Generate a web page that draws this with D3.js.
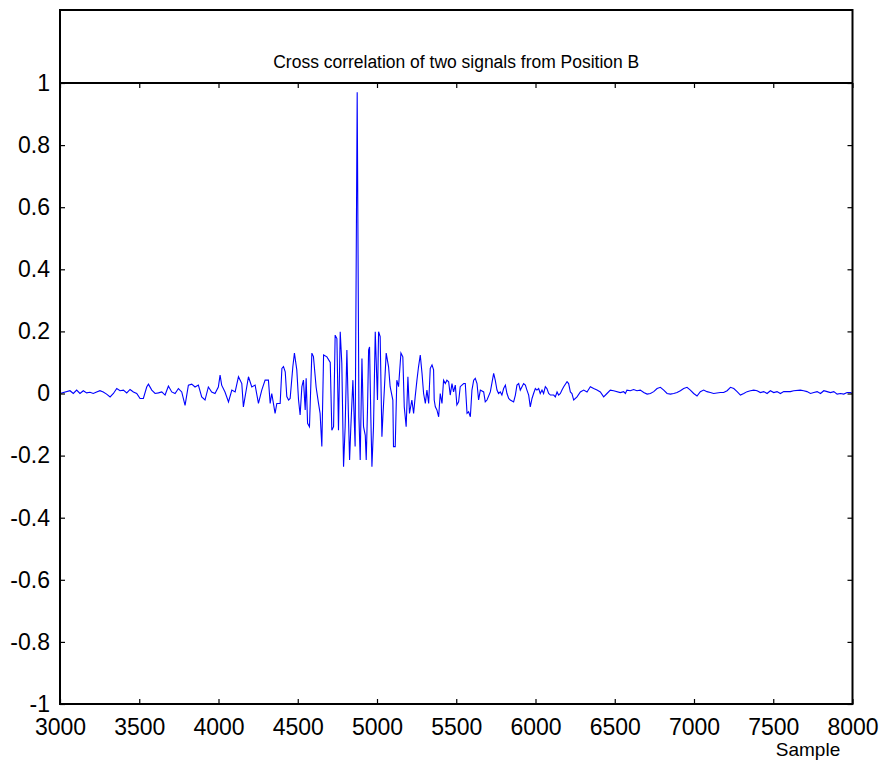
<!DOCTYPE html>
<html>
<head>
<meta charset="utf-8">
<script src="https://cdn.jsdelivr.net/npm/d3@7"></script>
<style>
  html, body { margin: 0; padding: 0; background: #fff; }
  svg { display: block; }
  text { font-family: Arial, "Liberation Sans", Helvetica, sans-serif; fill: #000; }
</style>
</head>
<body>
<div id="chart"></div>
<script>
const titleText = "Cross correlation of two signals from Position B";
const xLabelText = "Sample";
const xTicks = [3000, 3500, 4000, 4500, 5000, 5500, 6000, 6500, 7000, 7500, 8000];
const xTickLabels = ["3000","3500","4000","4500","5000","5500","6000","6500","7000","7500","8000"];
const yTicks = [-1, -0.8, -0.6, -0.4, -0.2, 0, 0.2, 0.4, 0.6, 0.8, 1];
const yTickLabels = ["-1","-0.8","-0.6","-0.4","-0.2","0","0.2","0.4","0.6","0.8","1"];

const samples = [
  3000,3063,3084,3105,3126,3147,3168,3189,3210,3231,3252,3273,3294,3316,3337,3358,3379,3400,3421,3442,
  3463,3484,3505,3526,3547,3558,3579,3600,3621,3642,3663,3684,3705,3726,3747,3768,3789,3810,3831,3852,
  3873,3894,3915,3936,3957,3978,3999,4010,4020,4041,4063,4084,4105,4126,4147,4157,4189,4210,4231,4252,
  4273,4294,4315,4326,4336,4357,4368,
  4389,4400,4410,4421,4431,4442,4452,4469,4479,4494,4505,4515,4526,4536,4547,4553,4562,4574,4589,4599,
  4616,4631,4641,4652,4663,4684,4705,4715,4726,4736,4747,4757,4768,4778,4789,4799,4810,4820,4827,4835,
  4848,4862,4875,4886,4894,4905,4915,4926,4932,4940,4947,4953,4961,4968,4978,4989,5003,5010,5020,5031,
  5037,5045,5058,5073,5083,5100,5104,5115,5125,5136,5151,5163,5172,5184,5195,5205,5220,5231,5241,5252,
  5262,5273,
  5284,5294,5305,5315,5326,5336,5347,5357,5361,5368,5378,5389,5399,5410,5420,5431,5441,5452,5462,5473,
  5483,5494,5504,5515,5525,5547,5557,5568,5578,5589,5599,5610,5620,5631,5641,5652,5673,5683,5694,5715,
  5736,5746,5757,5767,5778,5788,5799,5810,5820,5831,5841,5862,5873,5883,5894,5904,5915,5925,5936,5946,
  5957,5967,5978,5988,5999,6009,6020,6030,6041,6051,6062,6072,6083,6094,6115,6125,6136,6146,6157,6167,
  6178,6199,6209,6220,6230,6241,6262,6283,6304,6325,6346,6367,6388,6409,6430,6451,6472,6493,6535,
  6556,6567,6577,6598,6619,6640,6661,6683,6704,6725,6746,6767,6788,6809,6830,6851,6872,6893,6914,6935,
  6956,6977,6998,7019,7040,7061,7082,7103,7124,7166,7187,7209,7230,7251,7272,7293,7314,7335,7356,7377,
  7398,7419,7440,7461,7482,7503,7524,7545,7566,7608,7629,7671,7692,7713,7735,7756,7777,7798,7819,7840,
  7861,7882,7903,7924,7945,7966,7987,8000
];
const values = [
  0,0.009,0,0.011,0,0.009,0.002,0.004,0,0.005,0.009,0.005,-0.002,-0.011,0,0.016,0.009,0.011,0.002,0.013,
  0.005,0,-0.016,-0.016,0.021,0.03,0.011,0,0.002,0.005,-0.005,0.024,0.005,0,0.016,0.005,-0.038,0.027,0.03,0.021,
  0.027,-0.011,-0.021,0.021,0.005,0,0.021,0.059,0.027,0.005,-0.027,0.011,0.005,0.054,0.032,-0.043,0.054,0.021,0.027,-0.032,
  0.011,0.043,0.043,-0.032,0,-0.064,-0.032,
  -0.032,0.081,0.087,0.07,-0.01,-0.021,-0.016,0.086,0.13,0.076,-0.021,-0.069,0.022,0.043,-0.053,0.049,-0.096,-0.107,0.13,0.119,
  0.02,-0.032,-0.064,-0.171,0.124,0.118,0.10,-0.118,-0.107,0.188,0.177,-0.118,0.199,0.097,-0.236,-0.107,0.14,-0.075,-0.214,-0.107,
  0.043,-0.171,0.97,-0.075,-0.214,0.113,-0.107,-0.135,-0.214,-0.053,0.14,0.15,-0.075,-0.236,-0.107,0.199,-0.021,0.199,0.183,-0.139,
  -0.075,0,0.13,0.086,0.022,-0.021,-0.171,-0.171,0.043,0.022,0.13,0.118,-0.043,-0.107,0.054,-0.064,-0.021,-0.064,-0.01,0.043,
  0.086,0.124,
  0.065,0,-0.032,0.011,-0.032,0.081,0.092,0.076,-0.021,-0.043,-0.053,-0.075,0,-0.032,0.043,0.032,0.043,0.038,-0.005,0.032,
  0.005,0.027,-0.037,-0.027,0.022,0.032,0.032,-0.064,-0.059,-0.075,0.011,0.043,0.049,0.032,-0.021,0.011,0.005,-0.027,-0.021,0.005,
  0.065,0.043,0.011,0,0.005,-0.005,0.016,0.027,0,-0.016,-0.021,-0.027,-0.005,0.027,0.032,0.011,0.022,0.032,0.027,0.011,
  -0.005,-0.043,-0.016,0,0.016,0.011,0.016,0,0.011,0,0.022,0.016,0,-0.005,-0.005,-0.011,0.005,-0.005,0,0.011,
  0.022,0.038,0.032,0.005,0,-0.021,-0.011,0.005,0.011,0.005,0.022,0.016,0.011,0.005,-0.011,0,0.011,0.009,0.003,
  0.006,0,0.011,0.009,0.013,0.009,0.011,0.003,-0.002,0,0.006,0.016,0.02,0.011,0,-0.002,0,0.003,0.009,0.016,
  0.02,0.011,0,-0.008,0.006,0.011,0.006,0.003,0,0.003,0.003,0.009,0.02,0.016,0.006,-0.005,0,0.006,0.009,0.011,
  0.009,0.003,0.006,0,0.009,0.003,0.006,0,0.006,0.006,0.009,0.011,0.009,0.006,0,0.003,0.006,0,0.009,0.006,
  0.003,0.006,-0.002,0,-0.002,0.003,0.003,0
];

const W = 883, H = 765;
const plotLeft = 60, plotRight = 852.5, plotTop = 83, plotBottom = 704, frameTop = 10;

const svg = d3.select("#chart").append("svg").attr("width", W).attr("height", H);

const x = d3.scaleLinear().domain([3000, 8000]).range([plotLeft, plotRight]);
const y = d3.scaleLinear().domain([-1, 1]).range([plotBottom, plotTop]);

// data line
const data = samples.map((s, i) => [s, values[i]]);
svg.append("path")
  .datum(data)
  .attr("fill", "none")
  .attr("stroke", "#0000ff")
  .attr("stroke-width", 1.1)
  .attr("d", d3.line().x(d => x(d[0])).y(d => y(d[1])));

// axes with inward ticks
const tickLen = 5;
const xb = svg.append("g").attr("transform", `translate(0,${plotBottom})`)
  .call(d3.axisBottom(x).tickValues(xTicks).tickSize(-tickLen).tickPadding(tickLen + 10)
    .tickFormat((d, i) => xTickLabels[i]));
const xt = svg.append("g").attr("transform", `translate(0,${plotTop})`)
  .call(d3.axisTop(x).tickValues(xTicks).tickSize(-tickLen).tickFormat(""));
const yl = svg.append("g").attr("transform", `translate(${plotLeft},0)`)
  .call(d3.axisLeft(y).tickValues(yTicks).tickSize(-tickLen).tickPadding(tickLen + 10)
    .tickFormat((d, i) => yTickLabels[i]));
const yr = svg.append("g").attr("transform", `translate(${plotRight},0)`)
  .call(d3.axisRight(y).tickValues(yTicks).tickSize(-tickLen).tickFormat(""));

[xb, xt, yl, yr].forEach(g => {
  g.select(".domain").remove();
  g.selectAll(".tick line").attr("stroke", "#000").attr("stroke-width", 1.2);
  g.selectAll("text").attr("font-size", 23).attr("fill", "#000")
    .style("font-family", "Arial, 'Liberation Sans', sans-serif");
});
xb.selectAll("text").attr("dy", "0.71em").attr("y", 15);
yl.selectAll("text").attr("x", -10);

// frame
svg.append("rect")
  .attr("x", plotLeft).attr("y", frameTop)
  .attr("width", plotRight - plotLeft).attr("height", plotBottom - frameTop)
  .attr("fill", "none").attr("stroke", "#000").attr("stroke-width", 2);
svg.append("line")
  .attr("x1", plotLeft).attr("x2", plotRight).attr("y1", plotTop).attr("y2", plotTop)
  .attr("stroke", "#000").attr("stroke-width", 2);

// title
svg.append("text")
  .attr("x", (plotLeft + plotRight) / 2).attr("y", 68)
  .attr("text-anchor", "middle")
  .attr("font-size", 18)
  .attr("textLength", 366)
  .attr("lengthAdjust", "spacingAndGlyphs")
  .text(titleText);

// x label
svg.append("text")
  .attr("x", 808).attr("y", 756)
  .attr("text-anchor", "middle")
  .attr("font-size", 19)
  .text(xLabelText);
</script>
</body>
</html>
